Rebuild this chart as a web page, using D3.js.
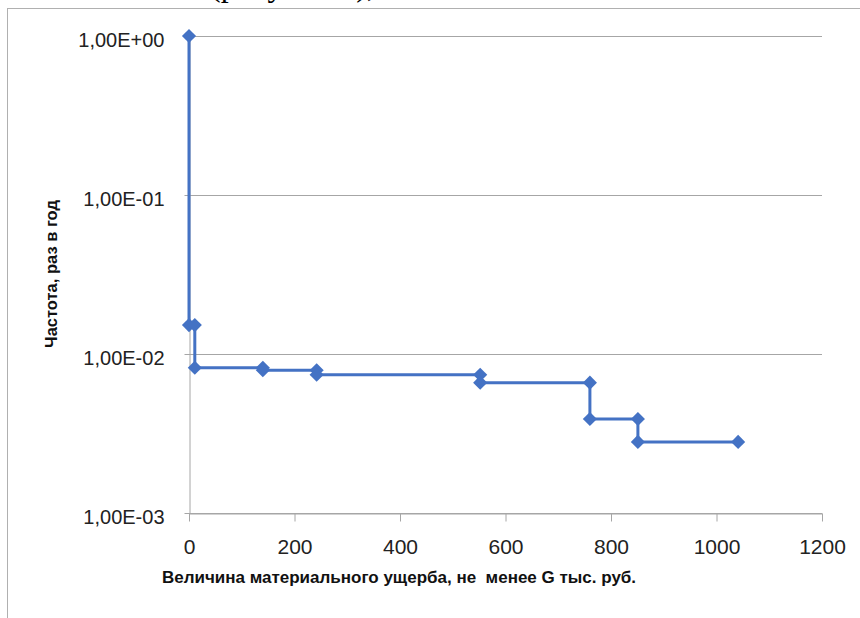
<!DOCTYPE html>
<html>
<head>
<meta charset="utf-8">
<script src="https://cdn.jsdelivr.net/npm/d3@7"></script>
<style>
  html, body { margin: 0; padding: 0; background: #fff; }
  svg { display: block; }
</style>
</head>
<body>
<svg id="chart" width="860" height="618"></svg>
<script>
// ---- data ----
const damageX = [0, 0, 11, 11, 140, 140, 242, 242, 552, 552, 760, 760, 851, 851, 1041];
const frequency = [1, 0.0152, 0.0152, 0.0082, 0.0082, 0.0079, 0.0079, 0.0074, 0.0074, 0.0066, 0.0066, 0.0039, 0.0039, 0.0028, 0.0028];
const yTickValues = [0.001, 0.01, 0.1, 1];
const yTickLabels = ["1,00E-03", "1,00E-02", "1,00E-01", "1,00E+00"];
const xTickValues = [0, 200, 400, 600, 800, 1000, 1200];
const xTickLabels = ["0", "200", "400", "600", "800", "1000", "1200"];
const xTitle = "Величина материального ущерба, не  менее G тыс. руб.";
const yTitle = "Частота, раз в год";
const captionText = "(рисунок 3),";

const points = damageX.map((xv, i) => ({x: xv, y: frequency[i]}));

const svg = d3.select("#chart");
const W = 860, H = 618;
const pLeft = 189, pRight = 822, pTop = 36, pBottom = 513;

const x = d3.scaleLinear().domain([0, 1200]).range([pLeft, pRight]);
const y = d3.scaleLog().domain([0.001, 1]).range([pBottom, pTop]);

const gridColor = "#a6a6a6";
const blue = "#4472C4";

// caption text cut at top (from document)
svg.append("text")
  .attr("x", 210).attr("y", -4)
  .attr("font-family", "Liberation Serif, Times New Roman, serif")
  .attr("font-size", 32)
  .attr("fill", "#000")
  .text(captionText);

// chart frame
svg.append("rect")
  .attr("x", 7.5).attr("y", 8.5)
  .attr("width", W + 10).attr("height", H + 10)
  .attr("fill", "none")
  .attr("stroke", "#b0b0b0")
  .attr("stroke-width", 1);

// horizontal gridlines
svg.append("g").selectAll("line")
  .data(yTickValues)
  .join("line")
  .attr("x1", pLeft).attr("x2", pRight)
  .attr("y1", d => Math.round(y(d)) + 0.5)
  .attr("y2", d => Math.round(y(d)) + 0.5)
  .attr("stroke", gridColor)
  .attr("stroke-width", 1);

// x axis
const xAxis = d3.axisBottom(x).tickValues(xTickValues)
  .tickFormat((d, i) => xTickLabels[i])
  .tickSize(8).tickPadding(18).tickSizeOuter(0);
const gx = svg.append("g").attr("transform", `translate(0,${pBottom + 0.5})`).call(xAxis);
gx.select(".domain").attr("stroke", gridColor);
gx.selectAll(".tick line").attr("stroke", gridColor);
gx.selectAll(".tick text")
  .attr("font-family", "Liberation Sans, Arial, sans-serif")
  .attr("font-size", 21)
  .attr("fill", "#222");

// y axis
const yAxis = d3.axisLeft(y).tickValues(yTickValues)
  .tickFormat((d, i) => yTickLabels[i])
  .tickSize(5).tickPadding(20).tickSizeOuter(0);
const gy = svg.append("g").attr("transform", `translate(${pLeft + 0.5},0)`).call(yAxis);
gy.select(".domain").attr("stroke", gridColor);
gy.selectAll(".tick line").attr("stroke", gridColor);
gy.selectAll(".tick text")
  .attr("font-family", "Liberation Sans, Arial, sans-serif")
  .attr("font-size", 20)
  .attr("dy", "0.5em")
  .attr("fill", "#222");

// line
const line = d3.line().x(d => x(d.x)).y(d => y(d.y));
svg.append("path")
  .datum(points)
  .attr("d", line)
  .attr("fill", "none")
  .attr("stroke", blue)
  .attr("stroke-width", 3)
  .attr("stroke-linejoin", "miter");

// markers (diamonds)
const sym = d3.symbol().type(d3.symbolSquare).size(100);
svg.append("g").selectAll("path")
  .data(points)
  .join("path")
  .attr("d", sym)
  .attr("transform", d => `translate(${x(d.x)},${y(d.y)}) rotate(45)`)
  .attr("fill", blue);

// axis titles
svg.append("text")
  .attr("x", 399).attr("y", 583)
  .attr("text-anchor", "middle")
  .attr("font-family", "Liberation Sans, Arial, sans-serif")
  .attr("font-weight", "bold")
  .attr("font-size", 17)
  .attr("fill", "#111")
  .style("white-space", "pre")
  .text(xTitle);

svg.append("text")
  .attr("transform", "translate(57,274) rotate(-90)")
  .attr("text-anchor", "middle")
  .attr("font-family", "Liberation Sans, Arial, sans-serif")
  .attr("font-weight", "bold")
  .attr("font-size", 16.5)
  .attr("fill", "#111")
  .text(yTitle);
</script>
</body>
</html>
